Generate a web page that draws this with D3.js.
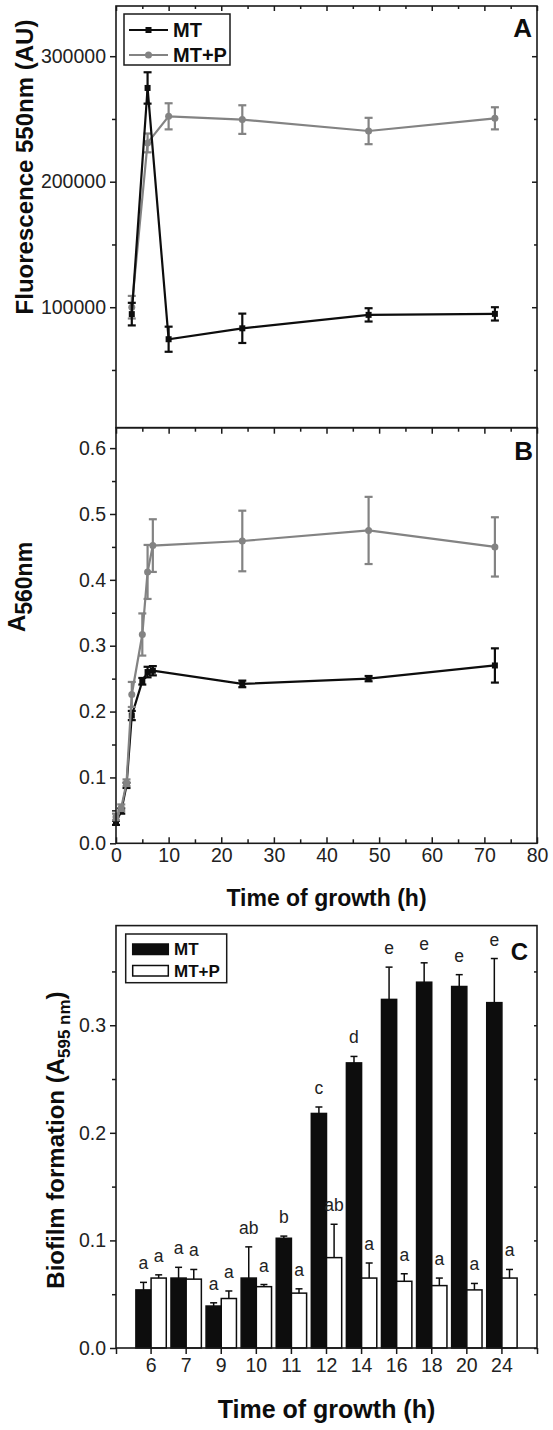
<!DOCTYPE html>
<html><head><meta charset="utf-8">
<script src="https://cdn.jsdelivr.net/npm/d3@7"></script>
<style>body{margin:0;background:#fff}svg{display:block}</style>
</head><body>
<svg id="c" width="553" height="1430"></svg>
<script>
// ---------- DATA ----------
const fluorTime = [3, 6, 10, 24, 48, 72];
const fluorMT = [94500, 274700, 74500, 83200, 93900, 94700];
const fluorMTErr = [9000, 12500, 10000, 11700, 5300, 5300];
const fluorMTP = [100000, 230900, 252100, 249500, 240400, 250500];
const fluorMTPErr = [9000, 7500, 10400, 11400, 10500, 8800];
const fluorTicks = [100000, 200000, 300000];
const fluorMinorTicks = [50000, 150000, 250000];

const growthTime = [0, 1, 2, 3, 5, 6, 7, 24, 48, 72];
const growthMT = [0.031, 0.049, 0.088, 0.194, 0.246, 0.260, 0.262, 0.242, 0.250, 0.270];
const growthMTErr = [0.003, 0.004, 0.004, 0.007, 0.005, 0.008, 0.007, 0.005, 0.004, 0.026];
const growthMTP = [0.040, 0.054, 0.092, 0.226, 0.317, 0.412, 0.452, 0.459, 0.475, 0.450];
const growthMTPErr = [0.005, 0.005, 0.005, 0.019, 0.032, 0.041, 0.040, 0.046, 0.051, 0.045];
const growthTicks = [0, 0.1, 0.2, 0.3, 0.4, 0.5, 0.6];
const growthMinorTicks = [0.05, 0.15, 0.25, 0.35, 0.45, 0.55];
const timeTicks = [0, 10, 20, 30, 40, 50, 60, 70, 80];
const timeMinorTicks = [5, 15, 25, 35, 45, 55, 65, 75];

const biofilmTime = ["6", "7", "9", "10", "11", "12", "14", "16", "18", "20", "24"];
const biofilmMT = [0.054, 0.065, 0.039, 0.065, 0.102, 0.218, 0.265, 0.324, 0.340, 0.336, 0.321];
const biofilmMTErr = [0.007, 0.010, 0.003, 0.029, 0.002, 0.006, 0.006, 0.030, 0.018, 0.011, 0.041];
const biofilmMTP = [0.065, 0.064, 0.046, 0.057, 0.051, 0.084, 0.065, 0.062, 0.058, 0.054, 0.065];
const biofilmMTPErr = [0.003, 0.009, 0.007, 0.002, 0.004, 0.031, 0.014, 0.007, 0.007, 0.006, 0.008];
const lettersMT = ["a", "a", "a", "ab", "b", "c", "d", "e", "e", "e", "e"];
const lettersMTP = ["a", "a", "a", "a", "a", "ab", "a", "a", "a", "a", "a"];
const biofilmTicks = [0, 0.1, 0.2, 0.3];
const biofilmMinorTicks = [0.05, 0.15, 0.25, 0.35];

const seriesNames = ["MT", "MT+P"];

// ---------- STYLE ----------
const FONT = '"Liberation Sans", Arial, Helvetica, sans-serif';
const AX = "#1a1a1a";
const BLACK = "#0d0d0d";
const GRAY = "#838383";
const TXT = "#222";

const svg = d3.select("#c");
const L = 116, R = 537;
const A_T = 6, A_B = 427.7, B_B = 843.3, C_T = 925.6, C_B = 1348;

const x = d3.scaleLinear().domain([0, 80]).range([L, R]);
const yA = d3.scaleLinear().domain([4000, 340000]).range([A_B, A_T]);
const yB = d3.scaleLinear().domain([0, 0.631]).range([B_B, A_B]);
const xC = d3.scaleBand().domain(biofilmTime).range([L + (R - L) / 24, R - (R - L) / 24]);
const xIdx = d3.scaleLinear().domain([0, 12]).range([L, R]);
const yC = d3.scaleLinear().domain([0, 0.3926]).range([C_B, C_T]);

function axis(ax, tr) {
  const g = svg.append("g").attr("transform", tr).call(ax);
  g.select(".domain").remove();
  g.attr("font-family", FONT).attr("font-size", 19.5);
  g.selectAll("line").attr("stroke", AX).attr("stroke-width", 1.5);
  g.selectAll("text").attr("fill", TXT);
  return g;
}
function frame(t, b) {
  svg.append("rect").attr("x", L).attr("y", t).attr("width", R - L).attr("height", b - t)
    .attr("fill", "none").attr("stroke", AX).attr("stroke-width", 1.6);
}

// ---------- PANEL A ----------
axis(d3.axisLeft(yA).tickValues(fluorTicks).tickSize(6).tickPadding(4).tickFormat(d3.format("d")), `translate(${L},0)`);
axis(d3.axisLeft(yA).tickValues(fluorMinorTicks).tickSize(4).tickFormat(""), `translate(${L},0)`);
axis(d3.axisLeft(yA).tickValues(fluorTicks).tickSize(5).tickFormat(""), `translate(${R},0)`);
axis(d3.axisLeft(yA).tickValues(fluorMinorTicks).tickSize(3).tickFormat(""), `translate(${R},0)`);
axis(d3.axisBottom(x).tickValues(timeTicks).tickSize(5).tickFormat(""), `translate(0,${A_T})`);
axis(d3.axisBottom(x).tickValues(timeMinorTicks).tickSize(3).tickFormat(""), `translate(0,${A_T})`);

function drawSeries(xs, ys, errs, ysc, color, marker) {
  const g = svg.append("g");
  const idx = d3.range(xs.length);
  g.append("path").datum(idx)
    .attr("d", d3.line().x(i => x(xs[i])).y(i => ysc(ys[i])))
    .attr("fill", "none").attr("stroke", color).attr("stroke-width", 2.2);
  const eb = g.selectAll(".eb").data(idx).enter().append("g");
  eb.append("line").attr("x1", i => x(xs[i])).attr("x2", i => x(xs[i]))
    .attr("y1", i => ysc(ys[i] - errs[i])).attr("y2", i => ysc(ys[i] + errs[i]))
    .attr("stroke", color).attr("stroke-width", 2.2);
  [-1, 1].forEach(s => {
    eb.append("line").attr("x1", i => x(xs[i]) - 4).attr("x2", i => x(xs[i]) + 4)
      .attr("y1", i => ysc(ys[i] + s * errs[i])).attr("y2", i => ysc(ys[i] + s * errs[i]))
      .attr("stroke", color).attr("stroke-width", 2.2);
  });
  if (marker === "square") {
    g.selectAll(".m").data(idx).enter().append("rect")
      .attr("x", i => x(xs[i]) - 3).attr("y", i => ysc(ys[i]) - 3)
      .attr("width", 6).attr("height", 6).attr("fill", color);
  } else {
    g.selectAll(".m").data(idx).enter().append("circle")
      .attr("cx", i => x(xs[i])).attr("cy", i => ysc(ys[i])).attr("r", 3.5).attr("fill", color);
  }
}
drawSeries(fluorTime, fluorMTP, fluorMTPErr, yA, GRAY, "circle");
drawSeries(fluorTime, fluorMT, fluorMTErr, yA, BLACK, "square");

// legend A
svg.append("rect").attr("x", 124).attr("y", 14).attr("width", 106).attr("height", 51)
  .attr("fill", "#fff").attr("stroke", AX).attr("stroke-width", 1.5);
[[BLACK, "square", 30], [GRAY, "circle", 55]].forEach(([c, m, yy], k) => {
  svg.append("line").attr("x1", 129).attr("x2", 168).attr("y1", yy).attr("y2", yy).attr("stroke", c).attr("stroke-width", 2.2);
  if (m === "square") svg.append("rect").attr("x", 145.5).attr("y", yy - 3).attr("width", 6).attr("height", 6).attr("fill", c);
  else svg.append("circle").attr("cx", 148.5).attr("cy", yy).attr("r", 3.5).attr("fill", c);
  svg.append("text").attr("x", 173).attr("y", yy + 7).text(seriesNames[k])
    .attr("font-family", FONT).attr("font-weight", "bold").attr("font-size", 20).attr("fill", BLACK);
});
svg.append("text").attr("x", 532).attr("y", 37).attr("text-anchor", "end").text("A")
  .attr("font-family", FONT).attr("font-weight", "bold").attr("font-size", 26).attr("fill", BLACK);
svg.append("text").attr("transform", "translate(33,167) rotate(-90)").attr("text-anchor", "middle")
  .attr("font-family", FONT).attr("font-weight", "bold").attr("font-size", 24).attr("fill", BLACK)
  .text("Fluorescence 550nm (AU)");
frame(A_T, A_B);

// ---------- PANEL B ----------
axis(d3.axisLeft(yB).tickValues(growthTicks).tickSize(6).tickPadding(4).tickFormat(d3.format(".1f")), `translate(${L},0)`);
axis(d3.axisLeft(yB).tickValues(growthMinorTicks).tickSize(4).tickFormat(""), `translate(${L},0)`);
axis(d3.axisBottom(x).tickValues(timeTicks).tickSize(-6).tickPadding(5).tickFormat(d3.format("d")), `translate(0,${B_B})`);
axis(d3.axisBottom(x).tickValues(timeMinorTicks).tickSize(-4).tickFormat(""), `translate(0,${B_B})`);
axis(d3.axisBottom(x).tickValues(timeTicks).tickSize(6).tickFormat(""), `translate(0,${A_B})`);
axis(d3.axisBottom(x).tickValues(timeMinorTicks).tickSize(4).tickFormat(""), `translate(0,${A_B})`);
drawSeries(growthTime, growthMT, growthMTErr, yB, BLACK, "square");
drawSeries(growthTime, growthMTP, growthMTPErr, yB, GRAY, "circle");
svg.append("text").attr("x", 533).attr("y", 460).attr("text-anchor", "end").text("B")
  .attr("font-family", FONT).attr("font-weight", "bold").attr("font-size", 26).attr("fill", BLACK);
{
  const t = svg.append("text").attr("transform", "translate(25,587) rotate(-90)").attr("text-anchor", "middle")
    .attr("font-family", FONT).attr("font-weight", "bold").attr("font-size", 24).attr("fill", BLACK);
  t.append("tspan").text("A");
  t.append("tspan").attr("dy", 7).attr("font-size", 23).text("560nm");
}
svg.append("text").attr("x", (L + R) / 2).attr("y", 906).attr("text-anchor", "middle")
  .attr("font-family", FONT).attr("font-weight", "bold").attr("font-size", 23).attr("fill", BLACK)
  .text("Time of growth (h)");
frame(A_B, B_B);

// ---------- PANEL C ----------
axis(d3.axisLeft(yC).tickValues(biofilmTicks).tickSize(6).tickPadding(4).tickFormat(d3.format(".1f")), `translate(${L},0)`);
axis(d3.axisLeft(yC).tickValues(biofilmMinorTicks).tickSize(4).tickFormat(""), `translate(${L},0)`);
axis(d3.axisLeft(yC).tickValues(biofilmTicks.concat(biofilmMinorTicks)).tickSize(3).tickFormat(""), `translate(${R},0)`);
axis(d3.axisBottom(xC).tickSize(6).tickPadding(4), `translate(0,${C_B})`);
axis(d3.axisBottom(xIdx).tickValues([0, 12]).tickSize(6).tickFormat(""), `translate(0,${C_B})`);

const bw = xC.bandwidth() * 0.433;
const cx = c => xC(c) + xC.bandwidth() / 2;
function bars(vals, errs, letters, off, fill) {
  const g = svg.append("g");
  const idx = d3.range(vals.length);
  g.selectAll("rect").data(idx).enter().append("rect")
    .attr("x", i => cx(biofilmTime[i]) + off).attr("y", i => yC(vals[i]))
    .attr("width", bw).attr("height", i => yC(0) - yC(vals[i]))
    .attr("fill", fill).attr("stroke", BLACK).attr("stroke-width", 1.5);
  const mid = i => cx(biofilmTime[i]) + off + bw / 2;
  g.selectAll(".e").data(idx).enter().append("line")
    .attr("x1", mid).attr("x2", mid).attr("y1", i => yC(vals[i])).attr("y2", i => yC(vals[i] + errs[i]))
    .attr("stroke", BLACK).attr("stroke-width", 1.5);
  g.selectAll(".c").data(idx).enter().append("line")
    .attr("x1", i => mid(i) - 3.5).attr("x2", i => mid(i) + 3.5)
    .attr("y1", i => yC(vals[i] + errs[i])).attr("y2", i => yC(vals[i] + errs[i]))
    .attr("stroke", BLACK).attr("stroke-width", 1.5);
  g.selectAll(".t").data(idx).enter().append("text")
    .attr("x", mid).attr("y", i => yC(vals[i] + errs[i]) - 13).attr("text-anchor", "middle")
    .attr("font-family", FONT).attr("font-size", 17.5).attr("fill", TXT).text(i => letters[i]);
}
bars(biofilmMT, biofilmMTErr, lettersMT, -bw, BLACK);
bars(biofilmMTP, biofilmMTPErr, lettersMTP, 0, "#fff");

// legend C
svg.append("rect").attr("x", 125.7).attr("y", 934).attr("width", 101).attr("height", 48.7)
  .attr("fill", "#fff").attr("stroke", AX).attr("stroke-width", 1.5);
[[BLACK, 944], ["#fff", 965.5]].forEach(([c, yy], k) => {
  svg.append("rect").attr("x", 132.7).attr("y", yy).attr("width", 35.6).attr("height", 10.5)
    .attr("fill", c).attr("stroke", BLACK).attr("stroke-width", 1.5);
  svg.append("text").attr("x", 174).attr("y", yy + 11).text(seriesNames[k])
    .attr("font-family", FONT).attr("font-weight", "bold").attr("font-size", 17).attr("fill", BLACK);
});
svg.append("text").attr("x", 528).attr("y", 960).attr("text-anchor", "end").text("C")
  .attr("font-family", FONT).attr("font-weight", "bold").attr("font-size", 24).attr("fill", BLACK);
{
  const t = svg.append("text").attr("transform", "translate(64,1140) rotate(-90)").attr("text-anchor", "middle")
    .attr("font-family", FONT).attr("font-weight", "bold").attr("font-size", 24).attr("fill", BLACK);
  t.append("tspan").text("Biofilm formation (A");
  t.append("tspan").attr("dy", 6).attr("font-size", 17).text("595 nm");
  t.append("tspan").attr("dy", -6).text(")");
}
svg.append("text").attr("x", (L + R) / 2).attr("y", 1418).attr("text-anchor", "middle")
  .attr("font-family", FONT).attr("font-weight", "bold").attr("font-size", 25).attr("fill", BLACK)
  .text("Time of growth (h)");
frame(C_T, C_B);
</script>
</body></html>
